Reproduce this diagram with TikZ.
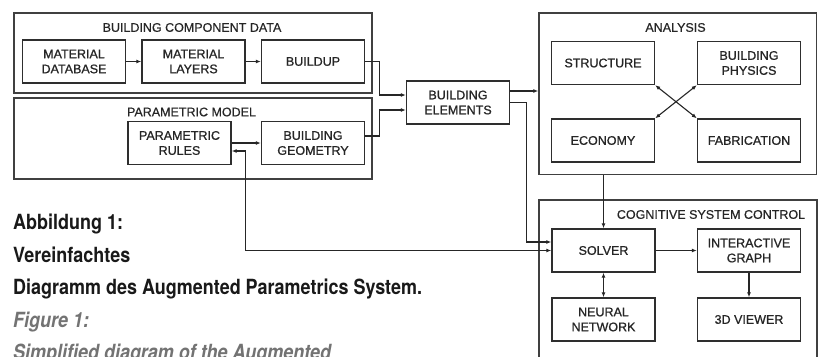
\documentclass[tikz,border=0pt]{standalone}
\usepackage{fontspec}
\newfontfamily\boxfont[FakeBold=0.9]{Liberation Sans}
\newfontfamily\titlefont[FakeBold=0.5]{Liberation Sans}
\newfontfamily\capfont[FakeStretch=0.86]{TeX Gyre Heros}
\usetikzlibrary{arrows.meta,calc}
\begin{document}
\begin{tikzpicture}[x=1pt,y=-1pt,
  box/.style={draw=black!82,line width=1.4pt,minimum width=103pt,minimum height=43pt,
    inner sep=0pt,align=center,text=black!85,font=\boxfont\fontsize{12.5}{15}\selectfont},
  outer/.style={draw=black!75,line width=1.5pt,inner sep=0pt},
  title/.style={inner sep=0pt,text=black!85,font=\titlefont\fontsize{12.5}{15}\selectfont},
  arr/.style={line width=1.1pt,draw=black!85,-{Latex[length=5pt,width=4pt]}},
  darr/.style={line width=1.1pt,draw=black!85,{Latex[length=5pt,width=4pt]}-{Latex[length=5pt,width=4pt]}},
  capde/.style={inner sep=0pt,anchor=base west,text=black!90,font=\capfont\bfseries\fontsize{20.9}{24}\selectfont},
  capen/.style={inner sep=0pt,anchor=base west,text=black!55,font=\capfont\bfseries\itshape\fontsize{20.9}{24}\selectfont}]
\useasboundingbox (0,0) rectangle (819,356);
\clip (0,0) rectangle (819,356);
\fill[white] (0,0) rectangle (819,356);

% outer boxes
\node[outer,minimum width=358pt,minimum height=80pt] (bcd) at (193,53) {};
\node[outer,minimum width=358pt,minimum height=81pt] (pm) at (193,138.5) {};
\node[outer,minimum width=277.5pt,minimum height=161.5pt] (analysis) at (677.75,93.75) {};
\node[outer,minimum width=278pt,minimum height=180pt] (cog) at (678,290) {};

% titles
\node[title] (bcdt) at (192,27.5) {BUILDING COMPONENT DATA};
\node[title] (pmt) at (191.5,112) {PARAMETRIC MODEL};
\node[title] (ant) at (675.5,27.5) {ANALYSIS};
\node[title] (cogt) at (711,214.5) {COGNITIVE SYSTEM CONTROL};

% inner boxes
\node[box] (matdb) at (74,61.5) {MATERIAL\\DATABASE};
\node[box] (matlay) at (193.5,61.5) {MATERIAL\\LAYERS};
\node[box] (buildup) at (313,61.5) {BUILDUP};
\node[box] (prules) at (179.5,143) {PARAMETRIC\\RULES};
\node[box] (bgeom) at (313,143) {BUILDING\\GEOMETRY};
\node[box] (be) at (458,102.5) {BUILDING\\ELEMENTS};
\node[box] (struct) at (603,63) {STRUCTURE};
\node[box] (bphys) at (749,63) {BUILDING\\PHYSICS};
\node[box] (econ) at (603,140.5) {ECONOMY};
\node[box] (fabr) at (749,140.5) {FABRICATION};
\node[box] (solver) at (603.5,250.5) {SOLVER};
\node[box] (igraph) at (749,250.5) {INTERACTIVE\\GRAPH};
\node[box] (nn) at (603.5,319.5) {NEURAL\\NETWORK};
\node[box] (viewer) at (749,319.5) {3D VIEWER};

% connectors
\draw[arr] (matdb) -- (matlay);
\draw[arr] (matlay) -- (buildup);
\draw[arr] (prules) -- (bgeom);
\draw[arr] (buildup.east) -- ++(14.5,0) |- ([yshift=7.5pt]be.west);
\draw[arr] ([yshift=7pt]bgeom.east) -- ++(14.5,0) |- ([yshift=-7.5pt]be.west);
\draw[arr] ([yshift=11.5pt]be.east) -- ([yshift=11.5pt]be.east -| analysis.west);
\draw[arr] (be.east) -- ++(16,0) |- ([yshift=8.5pt]solver.west);
\draw[darr] ([yshift=-8pt]prules.east) -- ++(13.5,0) |- (solver.west);
\draw[darr] (struct.south east) -- (fabr.north west);
\draw[darr] (econ.north east) -- (bphys.south west);
\draw[arr] (solver.north |- analysis.south) -- (solver.north);
\draw[arr] (solver) -- (igraph);
\draw[darr] (solver) -- (nn);
\draw[arr] (igraph) -- (viewer);

% caption
\node[capde] (c1) at (13,229.5) {Abbildung 1:};
\node[capde] (c2) at (13,262) {Vereinfachtes};
\node[capde] (c3) at (13,294.5) {Diagramm des Augmented Parametrics System.};
\node[capen] (c4) at (13,327) {Figure 1:};
\node[capen] (c5) at (13,359.5) {Simplified diagram of the Augmented};
\end{tikzpicture}
\end{document}
